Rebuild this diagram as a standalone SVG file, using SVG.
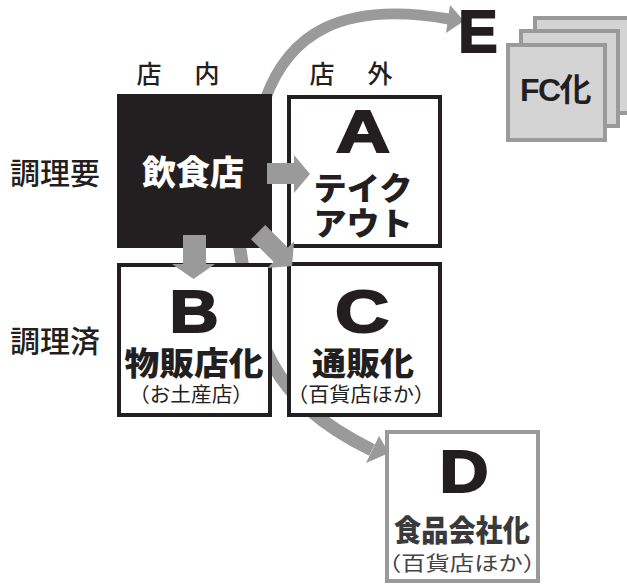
<svg xmlns="http://www.w3.org/2000/svg" width="627" height="584" viewBox="0 0 627 584">
<defs>
<style>
.jp{font-family:"Noto Sans CJK JP","Noto Sans",sans-serif;}
.lbl{font-size:25px;font-weight:500;fill:#231f20;text-anchor:middle}
.side{font-size:30px;font-weight:500;fill:#231f20;text-anchor:middle}
.big{font-family:"Liberation Sans",Arial,sans-serif;font-weight:700;font-size:59px;fill:#231f20;stroke:#231f20;stroke-width:2;text-anchor:middle}
.hv{font-weight:900;fill:#231f20;text-anchor:middle}
.sub{font-size:20px;font-weight:400;fill:#231f20;text-anchor:middle}
.box{fill:#fff;stroke:#231f20;stroke-width:4}
.arc{fill:none;stroke:#9a9a9a}
.ah{fill:#9a9a9a}
.fc{fill:#d4d4d4;stroke:#9a9a9a;stroke-width:4}
</style>
</defs>
<rect width="627" height="584" fill="#fff"/>
<g id="connectors-under">
<path class="arc" stroke-width="11" d="M265,100 C288,35 340,0 449,19"/>
<polygon class="ah" points="450,5 464,21 446,33"/>
<path class="arc" stroke-width="13" d="M238,235 C252,340 270,400 372,450"/>
<polygon class="ah" points="379,436 389,453 366,463"/>
</g>
<g id="header-in"><text class="jp lbl" y="83"><tspan x="149">店</tspan><tspan x="207">内</tspan></text></g>
<g id="header-out"><text class="jp lbl" y="83"><tspan x="322">店</tspan><tspan x="380">外</tspan></text></g>
<g id="row-need"><text class="jp side" x="55" y="184">調理要</text></g>
<g id="row-done"><text class="jp side" x="55" y="352">調理済</text></g>
<g id="restaurant">
<rect x="117" y="94" width="155" height="154" fill="#231f20"/>
<text class="jp hv" x="193" y="185" font-size="34" style="fill:#fff">飲食店</text>
</g>
<g id="A">
<rect class="box" x="289" y="97" width="151" height="149"/>
<text class="big" x="363" y="152" textLength="54" lengthAdjust="spacingAndGlyphs">A</text>
<text class="jp hv" x="363" y="200" font-size="32" textLength="99" lengthAdjust="spacingAndGlyphs">テイク</text>
<text class="jp hv" x="363" y="235" font-size="32" textLength="99" lengthAdjust="spacingAndGlyphs">アウト</text>
</g>
<g id="B">
<rect class="box" x="119" y="265" width="151" height="150"/>
<text class="big" x="194" y="332" textLength="49" lengthAdjust="spacingAndGlyphs">B</text>
<text class="jp hv" x="194" y="375" font-size="32" textLength="139" lengthAdjust="spacingAndGlyphs">物販店化</text>
<text class="jp sub" x="191" y="402" textLength="124" lengthAdjust="spacingAndGlyphs">（お土産店）</text>
</g>
<g id="C">
<rect class="box" x="289" y="264" width="151" height="151"/>
<text class="big" x="362" y="332" textLength="54" lengthAdjust="spacingAndGlyphs">C</text>
<text class="jp hv" x="363" y="375" font-size="32" textLength="102" lengthAdjust="spacingAndGlyphs">通販化</text>
<text class="jp sub" x="361" y="402" textLength="148" lengthAdjust="spacingAndGlyphs">（百貨店ほか）</text>
</g>
<g id="D">
<rect x="387" y="432" width="151" height="149" fill="#fff" stroke="#9a9a9a" stroke-width="4"/>
<text class="big" x="464" y="492" textLength="49" lengthAdjust="spacingAndGlyphs">D</text>
<text class="jp hv" x="462" y="541" font-size="30" style="fill:#3a3a3a" textLength="136" lengthAdjust="spacingAndGlyphs">食品会社化</text>
<text class="jp sub" x="462" y="571" font-size="21" style="fill:#444" textLength="170" lengthAdjust="spacingAndGlyphs">（百貨店ほか）</text>
</g>
<g id="E">
<text class="big" x="478" y="52">E</text>
<rect class="fc" x="535" y="18" width="100" height="95"/>
<rect class="fc" x="521" y="31" width="97" height="95"/>
<rect class="fc" x="508" y="45" width="97" height="95"/>
<text x="555" y="101" font-family="Liberation Sans, Noto Sans CJK JP, sans-serif" font-weight="700" font-size="32" fill="#231f20" text-anchor="middle" letter-spacing="-1.5">FC化</text>
</g>
<g id="connectors">
<polygon class="ah" points="267,163 294,163 294,155 310,174 294,193 294,184 267,184"/>
<polygon class="ah" points="183,235 206,235 206,264 215,264 193.5,279 172,264 183,264"/>
<polygon class="ah" points="265.2,225 287.8,247.6 294.1,241.3 292,266 267.3,268.1 273.6,261.8 251,239.2"/>
</g>
</svg>
